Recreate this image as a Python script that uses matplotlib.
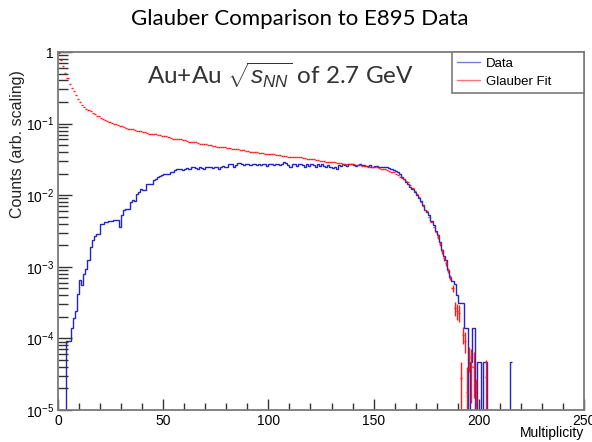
import numpy as np
import matplotlib
matplotlib.use('Agg')
import matplotlib.pyplot as plt
from matplotlib.lines import Line2D
from matplotlib.ticker import FixedLocator, NullFormatter

plt.rcParams['font.family'] = ['Liberation Sans', 'DejaVu Sans']
plt.rcParams['mathtext.fontset'] = 'custom'
plt.rcParams['mathtext.rm'] = 'Liberation Sans'
plt.rcParams['mathtext.it'] = 'Liberation Sans:italic'

# log10 of the counts per unit-multiplicity bin (None = empty bin)
data_log10 = [
    None, None, None, None, -4.04, -4.04, -3.86, -3.72, -3.62, -3.38,
    -3.19, -3.26, -3.10, -3.03, -2.91, -2.72, -2.63, -2.57, -2.54, -2.54,
    -2.40, -2.40, -2.37, -2.37, -2.36, -2.36, -2.35, -2.35, -2.35, -2.44,
    -2.28, -2.21, -2.19, -2.19, -2.09, -2.07, -2.08, -1.98, -1.96, -1.92,
    -1.93, -1.93, -1.84, -1.84, -1.84, -1.79, -1.78, -1.74, -1.73, -1.72,
    -1.71, -1.70, -1.70, -1.67, -1.68, -1.65, -1.64, -1.63, -1.63, -1.65,
    -1.64, -1.62, -1.63, -1.61, -1.60, -1.62, -1.63, -1.61, -1.62, -1.64,
    -1.61, -1.60, -1.60, -1.62, -1.61, -1.60, -1.63, -1.61, -1.59, -1.61,
    -1.60, -1.56, -1.57, -1.60, -1.58, -1.55, -1.55, -1.57, -1.58, -1.56,
    -1.56, -1.58, -1.57, -1.56, -1.58, -1.57, -1.58, -1.56, -1.57, -1.59,
    -1.57, -1.56, -1.58, -1.57, -1.56, -1.58, -1.57, -1.53, -1.55, -1.58,
    -1.60, -1.57, -1.56, -1.59, -1.57, -1.56, -1.58, -1.60, -1.57, -1.59,
    -1.56, -1.58, -1.60, -1.57, -1.59, -1.57, -1.59, -1.61, -1.58, -1.60,
    -1.62, -1.60, -1.63, -1.58, -1.59, -1.57, -1.58, -1.59, -1.57, -1.57,
    -1.58, -1.59, -1.58, -1.57, -1.58, -1.58, -1.59, -1.59, -1.58, -1.60,
    -1.59, -1.59, -1.60, -1.61, -1.60, -1.60, -1.60, -1.62, -1.64, -1.65,
    -1.66, -1.68, -1.71, -1.74, -1.78, -1.81, -1.84, -1.88, -1.92, -1.95,
    -2.00, -2.04, -2.08, -2.14, -2.20, -2.24, -2.28, -2.36, -2.42, -2.50,
    -2.56, -2.66, -2.77, -2.85, -2.91, -3.05, -3.14, -3.20, -3.24, -3.40,
    -3.51, -3.51, -3.51, -3.86, -3.86, None, -4.33, -3.86, None, -4.33,
    -4.33, None, -4.33, -4.33, None, None, None, None, None, None,
    None, None, None, None, None, -4.33,
]

glauber_log10 = [
    -0.02, -0.11, -0.20, -0.29, -0.37, -0.44, -0.50, -0.55, -0.60, -0.65,
    -0.70, -0.74, -0.77, -0.79, -0.81, -0.83, -0.85, -0.87, -0.89, -0.90,
    -0.92, -0.93, -0.95, -0.96, -0.98, -0.99, -1.00, -1.01, -1.02, -1.03,
    -1.04, -1.05, -1.06, -1.07, -1.07, -1.08, -1.09, -1.10, -1.10, -1.11,
    -1.12, -1.12, -1.13, -1.14, -1.14, -1.15, -1.15, -1.16, -1.16, -1.17,
    -1.18, -1.18, -1.19, -1.20, -1.21, -1.21, -1.22, -1.22, -1.22, -1.23,
    -1.23, -1.24, -1.25, -1.25, -1.26, -1.26, -1.27, -1.28, -1.28, -1.29,
    -1.29, -1.30, -1.30, -1.31, -1.31, -1.32, -1.32, -1.32, -1.33, -1.33,
    -1.34, -1.34, -1.35, -1.35, -1.36, -1.36, -1.37, -1.37, -1.37, -1.38,
    -1.38, -1.39, -1.39, -1.40, -1.40, -1.41, -1.41, -1.41, -1.42, -1.42,
    -1.43, -1.43, -1.43, -1.44, -1.44, -1.44, -1.45, -1.45, -1.45, -1.46,
    -1.46, -1.46, -1.46, -1.47, -1.47, -1.47, -1.48, -1.48, -1.49, -1.49,
    -1.50, -1.50, -1.51, -1.51, -1.52, -1.52, -1.52, -1.53, -1.53, -1.53,
    -1.54, -1.54, -1.55, -1.55, -1.55, -1.56, -1.56, -1.56, -1.57, -1.57,
    -1.57, -1.58, -1.58, -1.58, -1.59, -1.59, -1.59, -1.60, -1.60, -1.60,
    -1.61, -1.61, -1.62, -1.63, -1.63, -1.64, -1.65, -1.66, -1.67, -1.68,
    -1.70, -1.72, -1.74, -1.76, -1.78, -1.80, -1.82, -1.86, -1.90, -1.94,
    -1.98, -2.03, -2.10, -2.15, -2.20, -2.22, -2.30, -2.37, -2.44, -2.52,
    -2.58, -2.68, -2.78, -2.88, -2.95, -3.05, -3.15, -3.30, -3.58, -3.62,
    -3.64, -4.56, -3.95, -4.03, -4.75, -4.26, -4.38, -4.40, -4.87, None,
    None, None, None, -4.54,
]

# error bars of the fit in the tail, bins 180..203 (linear units)
glauber_err_tail = [
    2.0e-4, 1.6e-4, 1.3e-4, 1.0e-4, 9e-5, 7e-5, 6e-5, 5e-5, 6e-5, 6e-5,
    6e-5, 2e-5, 3e-5, 3e-5, 2.2e-5, 2.1e-5, 2.9e-5, 2.5e-5, 1.4e-5, 0,
    0, 0, 0, 2.1e-5,
]
tail_start = 180

x_ticks = [0, 50, 100, 150, 200, 250]
y_ticks = [1e-5, 1e-4, 1e-3, 1e-2, 1e-1, 1]
y_tick_labels = [r'$10^{-5}$', r'$10^{-4}$', r'$10^{-3}$', r'$10^{-2}$', r'$10^{-1}$', '1']

BLUE = '#2323c8'
RED = '#ff1a1a'
FRAME = '#7a7a7a'

fig = plt.figure(figsize=(5.92, 4.42), dpi=100)
ax = fig.add_axes([58 / 592, 1 - 410 / 442, 526 / 592, 358 / 442])

# data histogram drawn as steps, empty bins dropping to the bottom
data_vals = np.array([10 ** v if v is not None else 1e-9 for v in data_log10])
edges = np.arange(len(data_vals) + 1)
ax.stairs(data_vals, edges, color=BLUE, lw=1.0, baseline=None)

# glauber fit as points with bin-width x errors
g_x = np.array([i + 0.5 for i, v in enumerate(glauber_log10) if v is not None])
g_y = np.array([10 ** v for v in glauber_log10 if v is not None])
g_err = np.zeros(len(glauber_log10))
g_err[tail_start:tail_start + len(glauber_err_tail)] = glauber_err_tail
g_err = np.array([g_err[i] for i, v in enumerate(glauber_log10) if v is not None])
ax.errorbar(g_x, g_y, xerr=0.5, yerr=g_err, fmt='none', ecolor=RED, elinewidth=1.0,
            capsize=0)

ax.set_yscale('log')
ax.set_xlim(0, 250)
ax.set_ylim(1e-5, 1)

ax.set_xticks(x_ticks)
ax.set_xticklabels([str(t) for t in x_ticks], fontsize=10)
ax.xaxis.set_minor_locator(FixedLocator(np.arange(0, 251, 10)))
ax.set_yticks(y_ticks)
ax.set_yticklabels(y_tick_labels, fontsize=10)
minor_y = [m * 10.0 ** e for e in range(-5, 0) for m in range(2, 10)]
ax.yaxis.set_minor_locator(FixedLocator(minor_y))
ax.yaxis.set_minor_formatter(NullFormatter())

ax.tick_params(which='both', direction='in', top=False, right=False, color='#333333')
ax.tick_params(axis='y', which='major', length=10, width=1.0, pad=3)
ax.tick_params(axis='y', which='minor', length=7, width=1.0)
ax.tick_params(axis='x', which='major', length=8, width=1.0, pad=3)
ax.tick_params(axis='x', which='minor', length=5, width=1.0)
for sp in ax.spines.values():
    sp.set_color(FRAME)
    sp.set_linewidth(1.3)

handles = [Line2D([], [], color=BLUE, lw=1.0, alpha=0.6),
           Line2D([], [], color=RED, lw=1.0, alpha=0.6)]
leg = ax.legend(handles, ['Data', 'Glauber Fit'], loc='upper left',
                bbox_to_anchor=(0.749, 1.0, 0.251, 0.0), mode='expand',
                borderaxespad=0, fancybox=False, framealpha=1, edgecolor=FRAME,
                fontsize=9.5, handlelength=1.75, handletextpad=0.4, labelspacing=0.45,
                borderpad=0.4)
leg.get_frame().set_linewidth(1.2)

ax.text(0.169, 0.936, r'Au+Au $\sqrt{s_{NN}}$ of 2.7 GeV', transform=ax.transAxes,
        fontsize=17.5, va='center', ha='left', family=['Lato', 'DejaVu Sans'], color='#333333')

fig.text(0.507, 1 - 19 / 442, 'Glauber Comparison to E895 Data', ha='center', va='center',
         fontsize=16, family=['Lato', 'DejaVu Sans'])
fig.text(18 / 592, 1 - 144 / 442, 'Counts (arb. scaling)', rotation=90, ha='center',
         va='center', fontsize=11.5, color='#222222')
fig.text(584 / 592, 1 - 433 / 442, 'Multiplicity', ha='right', va='center', fontsize=10)

fig.savefig('out.png', dpi=100)
